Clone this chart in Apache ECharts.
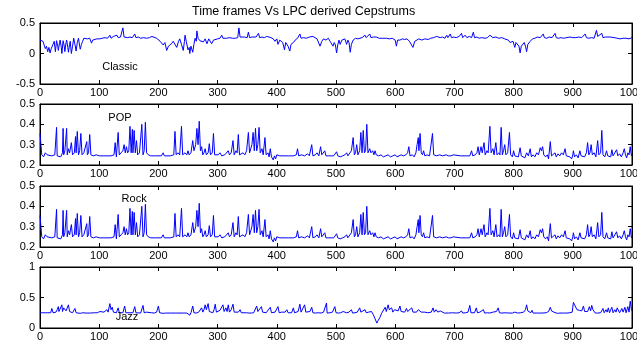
<!DOCTYPE html>
<html>
<head>
<meta charset="utf-8">
<script src="https://cdn.jsdelivr.net/npm/echarts@6/dist/echarts.min.js"></script>
<style>
  html, body { margin: 0; padding: 0; background: #fff; }
  #chart { width: 637px; height: 343px; }
</style>
</head>
<body>
<div id="chart"></div>
<script>
// frame index vs cepstrum value
const classicData = [[0,0.22],[3,0.24],[5,0.2],[7,0.22],[9,0.08],[11,0.12],[13,0.03],[15,0.1],[17,0.01],[19,0.08],[22,0.15],[24,0.2],[26,0.03],[28,0.21],[30,0.12],[31,0.05],[33,0.18],[34,0.22],[36,0.1],[37,0.0],[39,0.21],[41,0.12],[42,0.03],[44,0.18],[45,0.22],[47,0.1],[48,0.02],[50,0.15],[51,0.2],[53,0.0],[55,0.12],[57,0.25],[59,0.15],[61,0.04],[63,0.18],[65,0.25],[67,0.12],[68,0.07],[70,0.15],[72,0.2],[74,0.25],[76,0.25],[80,0.24],[84,0.25],[87,0.17],[89,0.22],[92,0.25],[96,0.24],[101,0.24],[105,0.25],[110,0.26],[114,0.25],[118,0.3],[120,0.25],[124,0.28],[126,0.25],[130,0.3],[132,0.26],[136,0.27],[139,0.25],[140,0.42],[142,0.27],[144,0.28],[148,0.26],[152,0.27],[156,0.26],[160,0.32],[162,0.26],[166,0.27],[170,0.25],[175,0.26],[180,0.25],[185,0.26],[189,0.28],[192,0.25],[197,0.25],[200,0.22],[203,0.2],[206,0.22],[208,0.14],[211,0.18],[214,0.05],[217,0.12],[220,0.1],[222,0.16],[225,0.2],[228,0.18],[231,0.1],[234,0.2],[236,0.24],[239,0.15],[242,0.05],[244,0.2],[245,0.3],[247,0.2],[250,0.06],[252,0.1],[253,0.0],[255,0.12],[258,0.02],[260,0.15],[262,0.25],[264,0.2],[265,0.37],[267,0.25],[270,0.21],[273,0.24],[276,0.19],[279,0.24],[282,0.16],[285,0.24],[288,0.22],[290,0.16],[293,0.22],[296,0.25],[300,0.24],[304,0.25],[307,0.3],[309,0.25],[315,0.25],[320,0.26],[325,0.25],[330,0.25],[334,0.26],[336,0.42],[338,0.27],[341,0.26],[345,0.27],[350,0.26],[352,0.35],[354,0.26],[358,0.27],[360,0.26],[365,0.27],[369,0.33],[371,0.26],[375,0.27],[379,0.26],[383,0.28],[386,0.25],[390,0.26],[394,0.24],[397,0.2],[400,0.24],[402,0.15],[405,0.22],[408,0.22],[410,0.18],[413,0.06],[415,0.18],[417,0.2],[419,0.12],[422,0.04],[424,0.15],[428,0.18],[431,0.22],[435,0.25],[439,0.32],[441,0.25],[445,0.26],[450,0.25],[455,0.27],[461,0.28],[464,0.25],[468,0.24],[471,0.22],[473,0.12],[476,0.2],[479,0.24],[483,0.22],[487,0.25],[490,0.2],[493,0.22],[495,0.12],[497,0.18],[499,0.14],[501,0.01],[503,0.14],[505,0.22],[507,0.15],[510,0.22],[513,0.2],[515,0.24],[518,0.15],[520,0.22],[522,0.18],[524,0.02],[526,0.15],[529,0.22],[533,0.25],[537,0.24],[540,0.24],[544,0.26],[547,0.25],[549,0.3],[551,0.26],[554,0.27],[557,0.32],[559,0.26],[563,0.27],[568,0.27],[571,0.3],[573,0.25],[578,0.25],[585,0.25],[590,0.24],[595,0.25],[600,0.22],[602,0.12],[604,0.22],[608,0.22],[612,0.24],[616,0.23],[620,0.24],[624,0.2],[627,0.22],[630,0.1],[633,0.2],[636,0.22],[640,0.24],[645,0.22],[650,0.24],[656,0.23],[660,0.25],[665,0.26],[670,0.28],[672,0.25],[676,0.26],[680,0.27],[684,0.25],[687,0.3],[689,0.26],[693,0.32],[695,0.26],[699,0.27],[703,0.26],[708,0.28],[712,0.33],[714,0.26],[718,0.3],[721,0.26],[725,0.28],[729,0.26],[732,0.35],[734,0.26],[738,0.27],[742,0.25],[746,0.26],[749,0.27],[752,0.25],[756,0.26],[760,0.3],[763,0.31],[765,0.26],[770,0.27],[775,0.25],[780,0.26],[785,0.24],[788,0.25],[791,0.22],[794,0.18],[796,0.15],[799,0.2],[802,0.1],[804,0.18],[807,0.2],[809,0.12],[811,0.01],[813,0.12],[816,0.1],[818,0.18],[820,0.12],[822,0.03],[824,0.15],[828,0.2],[832,0.24],[836,0.25],[840,0.27],[845,0.26],[848,0.29],[850,0.32],[852,0.26],[856,0.25],[860,0.27],[865,0.26],[870,0.33],[872,0.26],[876,0.25],[880,0.26],[884,0.25],[890,0.26],[895,0.27],[900,0.26],[905,0.26],[910,0.27],[915,0.26],[921,0.32],[923,0.26],[927,0.25],[932,0.26],[936,0.25],[940,0.38],[942,0.28],[945,0.3],[949,0.33],[951,0.26],[955,0.27],[958,0.25],[963,0.27],[966,0.25],[970,0.26],[975,0.25],[980,0.24],[985,0.25],[990,0.25],[995,0.24],[1000,0.26]]

const popData = [[0,0.355],[3,0.25],[6,0.24],[9,0.26],[12,0.25],[15,0.245],[20,0.245],[25,0.25],[27,0.245],[28,0.385],[29,0.245],[32,0.25],[35,0.24],[38,0.26],[39,0.38],[40,0.25],[42,0.27],[45,0.38],[46,0.25],[48,0.28],[50,0.26],[53,0.31],[55,0.25],[58,0.26],[60,0.34],[61,0.26],[63,0.365],[65,0.25],[67,0.27],[69,0.355],[71,0.25],[74,0.26],[77,0.255],[79,0.315],[80,0.25],[82,0.26],[84,0.35],[86,0.25],[90,0.245],[95,0.25],[100,0.245],[110,0.245],[120,0.245],[125,0.25],[127,0.31],[129,0.24],[132,0.36],[134,0.25],[137,0.26],[140,0.27],[142,0.3],[144,0.26],[146,0.29],[148,0.26],[150,0.27],[152,0.39],[154,0.26],[156,0.375],[157,0.26],[159,0.37],[161,0.26],[163,0.32],[165,0.25],[168,0.26],[172,0.4],[174,0.25],[176,0.27],[178,0.41],[180,0.26],[183,0.25],[187,0.245],[195,0.245],[205,0.245],[208,0.26],[210,0.245],[220,0.245],[226,0.25],[228,0.365],[230,0.25],[233,0.26],[236,0.25],[239,0.39],[241,0.25],[245,0.26],[248,0.25],[250,0.27],[252,0.25],[255,0.26],[258,0.32],[260,0.27],[263,0.3],[265,0.38],[267,0.3],[269,0.415],[271,0.27],[273,0.29],[275,0.25],[277,0.26],[279,0.28],[281,0.25],[284,0.26],[286,0.305],[288,0.25],[291,0.26],[293,0.355],[295,0.25],[298,0.245],[301,0.25],[304,0.26],[307,0.245],[312,0.25],[315,0.245],[318,0.27],[320,0.25],[323,0.26],[326,0.32],[328,0.25],[331,0.27],[333,0.26],[335,0.35],[337,0.25],[340,0.255],[343,0.26],[346,0.25],[349,0.27],[352,0.36],[354,0.26],[356,0.28],[358,0.3],[360,0.36],[362,0.27],[364,0.38],[366,0.27],[368,0.3],[370,0.385],[372,0.26],[375,0.28],[377,0.25],[380,0.335],[382,0.25],[385,0.26],[387,0.24],[389,0.28],[391,0.24],[394,0.225],[396,0.245],[398,0.23],[400,0.25],[405,0.245],[412,0.245],[420,0.245],[428,0.245],[433,0.25],[435,0.28],[437,0.245],[442,0.25],[447,0.245],[452,0.255],[455,0.245],[459,0.3],[461,0.245],[465,0.25],[468,0.26],[471,0.245],[474,0.29],[476,0.25],[479,0.255],[481,0.27],[483,0.245],[487,0.245],[492,0.245],[496,0.245],[501,0.265],[503,0.245],[507,0.24],[511,0.245],[515,0.25],[518,0.26],[520,0.245],[523,0.25],[526,0.27],[529,0.335],[531,0.25],[533,0.26],[535,0.3],[537,0.25],[540,0.27],[542,0.36],[544,0.26],[546,0.37],[548,0.26],[550,0.27],[552,0.40],[554,0.26],[557,0.28],[559,0.26],[562,0.27],[564,0.25],[566,0.27],[568,0.25],[572,0.245],[576,0.25],[580,0.24],[584,0.245],[588,0.25],[592,0.24],[596,0.245],[600,0.25],[603,0.24],[606,0.245],[610,0.25],[614,0.245],[618,0.25],[621,0.26],[623,0.29],[625,0.245],[629,0.25],[632,0.24],[635,0.26],[637,0.3],[639,0.335],[640,0.27],[642,0.355],[644,0.26],[646,0.25],[648,0.27],[650,0.245],[654,0.25],[658,0.245],[661,0.25],[663,0.355],[665,0.25],[670,0.245],[675,0.25],[680,0.245],[686,0.25],[690,0.245],[694,0.245],[698,0.25],[700,0.245],[710,0.245],[720,0.245],[726,0.245],[729,0.27],[731,0.245],[735,0.25],[738,0.26],[740,0.29],[742,0.25],[745,0.29],[747,0.26],[750,0.31],[752,0.25],[755,0.27],[757,0.26],[760,0.39],[762,0.26],[765,0.28],[767,0.25],[770,0.31],[772,0.25],[775,0.26],[777,0.25],[779,0.385],[781,0.25],[783,0.27],[785,0.3],[787,0.25],[790,0.26],[793,0.36],[795,0.25],[798,0.24],[800,0.27],[802,0.245],[805,0.25],[808,0.24],[811,0.285],[813,0.245],[816,0.25],[819,0.235],[822,0.26],[825,0.245],[828,0.28],[830,0.24],[833,0.25],[836,0.24],[839,0.26],[842,0.25],[845,0.285],[847,0.27],[849,0.29],[851,0.25],[854,0.24],[857,0.25],[859,0.23],[862,0.315],[864,0.245],[867,0.25],[870,0.26],[872,0.24],[875,0.255],[878,0.245],[881,0.26],[884,0.25],[887,0.28],[889,0.245],[892,0.25],[895,0.24],[898,0.23],[900,0.25],[901,0.27],[903,0.24],[906,0.25],[909,0.235],[912,0.27],[914,0.245],[917,0.25],[920,0.24],[923,0.26],[925,0.31],[927,0.25],[929,0.26],[931,0.30],[933,0.25],[936,0.26],[939,0.24],[942,0.32],[944,0.25],[947,0.26],[949,0.37],[951,0.25],[954,0.24],[957,0.27],[959,0.245],[962,0.25],[964,0.24],[966,0.275],[968,0.245],[971,0.25],[974,0.275],[976,0.245],[979,0.255],[982,0.24],[985,0.26],[987,0.28],[989,0.25],[991,0.235],[993,0.26],[995,0.25],[997,0.29],[999,0.245],[1000,0.25]]

// the Rock trace in the figure is the same curve as POP
const rockData = [[0,0.355],[3,0.25],[6,0.24],[9,0.26],[12,0.25],[15,0.245],[20,0.245],[25,0.25],[27,0.245],[28,0.385],[29,0.245],[32,0.25],[35,0.24],[38,0.26],[39,0.38],[40,0.25],[42,0.27],[45,0.38],[46,0.25],[48,0.28],[50,0.26],[53,0.31],[55,0.25],[58,0.26],[60,0.34],[61,0.26],[63,0.365],[65,0.25],[67,0.27],[69,0.355],[71,0.25],[74,0.26],[77,0.255],[79,0.315],[80,0.25],[82,0.26],[84,0.35],[86,0.25],[90,0.245],[95,0.25],[100,0.245],[110,0.245],[120,0.245],[125,0.25],[127,0.31],[129,0.24],[132,0.36],[134,0.25],[137,0.26],[140,0.27],[142,0.3],[144,0.26],[146,0.29],[148,0.26],[150,0.27],[152,0.39],[154,0.26],[156,0.375],[157,0.26],[159,0.37],[161,0.26],[163,0.32],[165,0.25],[168,0.26],[172,0.4],[174,0.25],[176,0.27],[178,0.41],[180,0.26],[183,0.25],[187,0.245],[195,0.245],[205,0.245],[208,0.26],[210,0.245],[220,0.245],[226,0.25],[228,0.365],[230,0.25],[233,0.26],[236,0.25],[239,0.39],[241,0.25],[245,0.26],[248,0.25],[250,0.27],[252,0.25],[255,0.26],[258,0.32],[260,0.27],[263,0.3],[265,0.38],[267,0.3],[269,0.415],[271,0.27],[273,0.29],[275,0.25],[277,0.26],[279,0.28],[281,0.25],[284,0.26],[286,0.305],[288,0.25],[291,0.26],[293,0.355],[295,0.25],[298,0.245],[301,0.25],[304,0.26],[307,0.245],[312,0.25],[315,0.245],[318,0.27],[320,0.25],[323,0.26],[326,0.32],[328,0.25],[331,0.27],[333,0.26],[335,0.35],[337,0.25],[340,0.255],[343,0.26],[346,0.25],[349,0.27],[352,0.36],[354,0.26],[356,0.28],[358,0.3],[360,0.36],[362,0.27],[364,0.38],[366,0.27],[368,0.3],[370,0.385],[372,0.26],[375,0.28],[377,0.25],[380,0.335],[382,0.25],[385,0.26],[387,0.24],[389,0.28],[391,0.24],[394,0.225],[396,0.245],[398,0.23],[400,0.25],[405,0.245],[412,0.245],[420,0.245],[428,0.245],[433,0.25],[435,0.28],[437,0.245],[442,0.25],[447,0.245],[452,0.255],[455,0.245],[459,0.3],[461,0.245],[465,0.25],[468,0.26],[471,0.245],[474,0.29],[476,0.25],[479,0.255],[481,0.27],[483,0.245],[487,0.245],[492,0.245],[496,0.245],[501,0.265],[503,0.245],[507,0.24],[511,0.245],[515,0.25],[518,0.26],[520,0.245],[523,0.25],[526,0.27],[529,0.335],[531,0.25],[533,0.26],[535,0.3],[537,0.25],[540,0.27],[542,0.36],[544,0.26],[546,0.37],[548,0.26],[550,0.27],[552,0.40],[554,0.26],[557,0.28],[559,0.26],[562,0.27],[564,0.25],[566,0.27],[568,0.25],[572,0.245],[576,0.25],[580,0.24],[584,0.245],[588,0.25],[592,0.24],[596,0.245],[600,0.25],[603,0.24],[606,0.245],[610,0.25],[614,0.245],[618,0.25],[621,0.26],[623,0.29],[625,0.245],[629,0.25],[632,0.24],[635,0.26],[637,0.3],[639,0.335],[640,0.27],[642,0.355],[644,0.26],[646,0.25],[648,0.27],[650,0.245],[654,0.25],[658,0.245],[661,0.25],[663,0.355],[665,0.25],[670,0.245],[675,0.25],[680,0.245],[686,0.25],[690,0.245],[694,0.245],[698,0.25],[700,0.245],[710,0.245],[720,0.245],[726,0.245],[729,0.27],[731,0.245],[735,0.25],[738,0.26],[740,0.29],[742,0.25],[745,0.29],[747,0.26],[750,0.31],[752,0.25],[755,0.27],[757,0.26],[760,0.39],[762,0.26],[765,0.28],[767,0.25],[770,0.31],[772,0.25],[775,0.26],[777,0.25],[779,0.385],[781,0.25],[783,0.27],[785,0.3],[787,0.25],[790,0.26],[793,0.36],[795,0.25],[798,0.24],[800,0.27],[802,0.245],[805,0.25],[808,0.24],[811,0.285],[813,0.245],[816,0.25],[819,0.235],[822,0.26],[825,0.245],[828,0.28],[830,0.24],[833,0.25],[836,0.24],[839,0.26],[842,0.25],[845,0.285],[847,0.27],[849,0.29],[851,0.25],[854,0.24],[857,0.25],[859,0.23],[862,0.315],[864,0.245],[867,0.25],[870,0.26],[872,0.24],[875,0.255],[878,0.245],[881,0.26],[884,0.25],[887,0.28],[889,0.245],[892,0.25],[895,0.24],[898,0.23],[900,0.25],[901,0.27],[903,0.24],[906,0.25],[909,0.235],[912,0.27],[914,0.245],[917,0.25],[920,0.24],[923,0.26],[925,0.31],[927,0.25],[929,0.26],[931,0.30],[933,0.25],[936,0.26],[939,0.24],[942,0.32],[944,0.25],[947,0.26],[949,0.37],[951,0.25],[954,0.24],[957,0.27],[959,0.245],[962,0.25],[964,0.24],[966,0.275],[968,0.245],[971,0.25],[974,0.275],[976,0.245],[979,0.255],[982,0.24],[985,0.26],[987,0.28],[989,0.25],[991,0.235],[993,0.26],[995,0.25],[997,0.29],[999,0.245],[1000,0.25]]

const jazzData = [[0,0.25],[4,0.25],[7,0.26],[9,0.25],[11,0.27],[13,0.25],[16,0.26],[18,0.25],[20,0.32],[22,0.25],[24,0.27],[25,0.28],[27,0.26],[29,0.3],[31,0.35],[32,0.27],[34,0.3],[35,0.26],[37,0.38],[38,0.27],[39,0.29],[40,0.33],[42,0.36],[44,0.28],[46,0.3],[48,0.38],[50,0.27],[53,0.3],[55,0.25],[57,0.27],[59,0.32],[61,0.25],[64,0.26],[68,0.24],[72,0.25],[78,0.245],[85,0.245],[92,0.25],[97,0.25],[101,0.27],[104,0.25],[108,0.26],[111,0.27],[113,0.3],[115,0.26],[118,0.4],[120,0.3],[122,0.34],[124,0.26],[127,0.29],[129,0.25],[132,0.33],[134,0.25],[137,0.26],[140,0.25],[143,0.36],[145,0.25],[148,0.26],[152,0.25],[155,0.28],[157,0.25],[160,0.35],[162,0.25],[165,0.26],[170,0.245],[174,0.37],[176,0.25],[180,0.26],[183,0.245],[188,0.25],[193,0.245],[197,0.26],[200,0.36],[202,0.25],[205,0.26],[208,0.24],[212,0.245],[220,0.245],[230,0.245],[240,0.245],[248,0.245],[253,0.21],[255,0.25],[258,0.36],[260,0.25],[264,0.245],[268,0.26],[271,0.28],[273,0.33],[275,0.26],[277,0.3],[279,0.38],[281,0.3],[284,0.4],[286,0.27],[289,0.26],[292,0.25],[294,0.3],[296,0.39],[298,0.26],[301,0.25],[304,0.29],[306,0.26],[309,0.38],[311,0.27],[314,0.33],[316,0.27],[318,0.38],[320,0.26],[323,0.3],[326,0.39],[328,0.26],[331,0.25],[335,0.26],[338,0.3],[340,0.25],[343,0.245],[349,0.25],[353,0.245],[357,0.245],[361,0.25],[364,0.27],[366,0.36],[368,0.27],[371,0.3],[374,0.35],[376,0.26],[379,0.27],[382,0.25],[385,0.26],[389,0.34],[391,0.25],[394,0.27],[397,0.26],[400,0.28],[402,0.35],[404,0.25],[408,0.26],[411,0.245],[414,0.26],[417,0.3],[419,0.25],[422,0.26],[425,0.25],[428,0.33],[430,0.25],[433,0.245],[436,0.27],[439,0.39],[441,0.26],[444,0.27],[447,0.38],[449,0.26],[452,0.25],[456,0.27],[459,0.34],[461,0.25],[465,0.245],[470,0.25],[475,0.245],[479,0.26],[481,0.28],[484,0.41],[485,0.245],[490,0.25],[494,0.26],[498,0.35],[500,0.25],[504,0.245],[508,0.25],[512,0.27],[514,0.245],[518,0.25],[522,0.26],[526,0.3],[528,0.245],[532,0.25],[536,0.26],[538,0.29],[540,0.33],[542,0.26],[545,0.27],[549,0.3],[551,0.25],[555,0.26],[558,0.24],[560,0.27],[563,0.22],[566,0.15],[569,0.08],[571,0.12],[574,0.17],[577,0.24],[580,0.27],[583,0.34],[585,0.27],[588,0.38],[590,0.3],[592,0.28],[594,0.33],[596,0.26],[599,0.3],[602,0.27],[605,0.28],[608,0.36],[610,0.27],[613,0.3],[616,0.26],[619,0.32],[621,0.27],[624,0.26],[628,0.33],[630,0.26],[633,0.28],[636,0.26],[639,0.3],[642,0.32],[644,0.26],[647,0.27],[650,0.26],[653,0.28],[655,0.25],[658,0.27],[661,0.26],[664,0.33],[666,0.26],[669,0.3],[672,0.26],[676,0.28],[678,0.25],[683,0.245],[690,0.245],[697,0.25],[703,0.245],[708,0.25],[712,0.28],[714,0.245],[719,0.25],[723,0.26],[726,0.37],[728,0.25],[731,0.27],[734,0.25],[737,0.33],[739,0.25],[743,0.26],[746,0.25],[749,0.3],[751,0.245],[756,0.25],[760,0.245],[765,0.26],[768,0.25],[771,0.27],[774,0.33],[776,0.25],[780,0.245],[786,0.25],[792,0.245],[798,0.245],[802,0.26],[805,0.27],[807,0.245],[812,0.25],[817,0.26],[820,0.3],[822,0.38],[824,0.28],[827,0.3],[829,0.25],[831,0.29],[833,0.245],[840,0.245],[848,0.245],[855,0.25],[859,0.27],[862,0.34],[864,0.28],[866,0.3],[868,0.26],[871,0.27],[874,0.24],[878,0.245],[884,0.245],[890,0.245],[895,0.25],[899,0.26],[901,0.42],[903,0.38],[905,0.36],[907,0.3],[909,0.33],[911,0.29],[913,0.32],[915,0.28],[918,0.36],[920,0.27],[923,0.3],[925,0.27],[928,0.35],[930,0.28],[932,0.37],[934,0.3],[936,0.33],[938,0.245],[942,0.245],[947,0.25],[951,0.32],[953,0.25],[956,0.3],[958,0.26],[960,0.33],[962,0.25],[964,0.3],[966,0.34],[968,0.25],[971,0.3],[973,0.26],[975,0.33],[977,0.35],[979,0.25],[983,0.32],[985,0.26],[988,0.34],[990,0.25],[993,0.35],[995,0.26],[997,0.44],[999,0.3],[1000,0.28]]

const genreNames = ['Classic', 'POP', 'Rock', 'Jazz']
const genreLabelAt = [[135, -0.22], [135, 0.43], [159, 0.435], [147, 0.18]]
const yRanges = [[-0.5, 0.5, 0.5], [0.2, 0.5, 0.1], [0.2, 0.5, 0.1], [0, 1, 0.5]]
const gridTops = [23, 104, 186, 267]
const titleText = 'Time frames Vs LPC derived Cepstrums'

const font = 'Liberation Sans, Arial, Helvetica, sans-serif'
const allData = [classicData, popData, rockData, jazzData]

let grid = []
let xAxis = []
let yAxis = []
let series = []

allData.forEach((data, i) => {
  grid.push({
    left: 40,
    right: 5,
    top: gridTops[i],
    height: 61,
    show: true,
    borderColor: '#000',
    borderWidth: 1,
    backgroundColor: '#fff',
    containLabel: false,
    outerBoundsMode: 'none'
  })
  // bottom axis with labels, top axis only for the inner ticks
  ;['bottom', 'top'].forEach((pos) => {
    xAxis.push({
      gridIndex: i,
      type: 'value',
      position: pos,
      min: 0,
      max: 1000,
      interval: 100,
      axisLine: { onZero: false, lineStyle: { color: '#000', width: 1 } },
      axisTick: { inside: true, length: 4, lineStyle: { color: '#000' } },
      axisLabel: {
        show: pos === 'bottom',
        color: '#000',
        fontSize: 11,
        fontFamily: font,
        margin: 3,
        showMaxLabel: true,
        formatter: (v) => String(v)
      },
      splitLine: { show: false }
    })
  })
  ;['left', 'right'].forEach((pos) => {
    yAxis.push({
      gridIndex: i,
      type: 'value',
      position: pos,
      min: yRanges[i][0],
      max: yRanges[i][1],
      interval: yRanges[i][2],
      axisLine: { onZero: false, show: true, lineStyle: { color: '#000', width: 1 } },
      axisTick: { show: true, inside: true, length: 4, lineStyle: { color: '#000' } },
      axisLabel: {
        show: pos === 'left',
        color: '#000',
        fontSize: 11,
        fontFamily: font,
        margin: 5
      },
      splitLine: { show: false }
    })
  })
  series.push({
    name: genreNames[i],
    type: 'line',
    xAxisIndex: i * 2,
    yAxisIndex: i * 2,
    data: data,
    showSymbol: false,
    symbol: 'none',
    animation: false,
    lineStyle: { color: '#0000ff', width: 1 },
    markPoint: {
      symbol: 'circle',
      symbolSize: 0,
      animation: false,
      label: {
        show: true,
        position: 'inside',
        formatter: genreNames[i],
        color: '#000',
        fontSize: 11,
        fontFamily: font
      },
      data: [{ coord: genreLabelAt[i] }]
    }
  })
})

const chart = echarts.init(document.getElementById('chart'))
chart.setOption({
  animation: false,
  backgroundColor: '#fff',
  graphic: [
    {
      type: 'text',
      left: 192,
      top: 5,
      style: {
        text: titleText,
        fontSize: 12.5,
        fontFamily: font,
        fill: '#000'
      }
    }
  ],
  grid,
  xAxis,
  yAxis,
  series
})
</script>
</body>
</html>
